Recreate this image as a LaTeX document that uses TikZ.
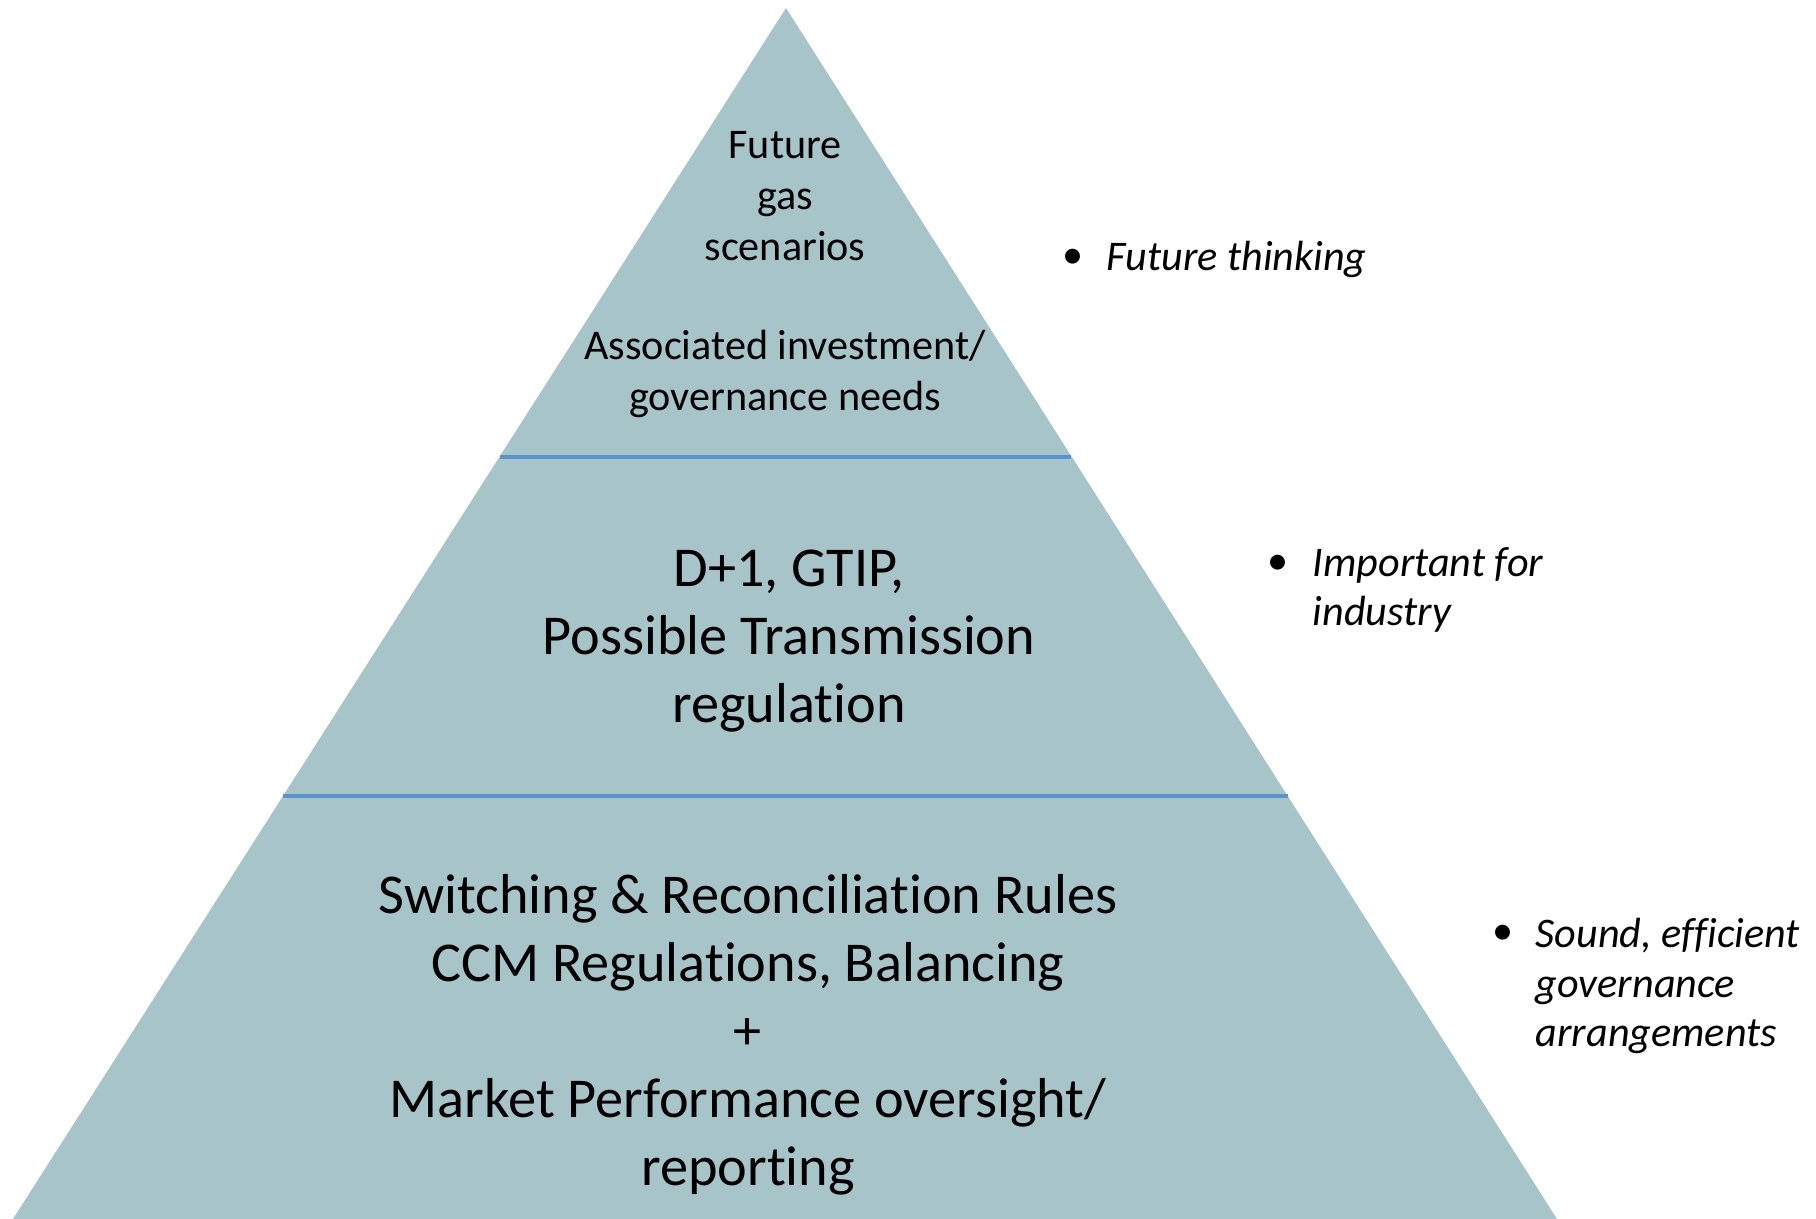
\documentclass[tikz,border=0pt]{standalone}
\usepackage{fontspec}
\setmainfont{Carlito}[Ligatures=NoCommon]
\definecolor{pyrfill}{RGB}{167,196,201}
\definecolor{tierline}{RGB}{88,146,207}
\begin{document}
\begin{tikzpicture}[x=0.01cm,y=-0.01cm]
\tikzset{
  toptext/.style={align=center,inner sep=0pt,font=\fontsize{12}{14.5}\selectfont},
  tiertext/.style={align=center,inner sep=0pt,font=\fontsize{16}{19.3}\selectfont},
  sidetext/.style={align=left,inner sep=0pt,font=\fontsize{12}{14.1}\selectfont\itshape},
  dot/.style={inner sep=0pt,font=\fontsize{12}{14.1}\selectfont}
}
\useasboundingbox (0,0) rectangle (1816,1219);

% the pyramid and its tiers
\coordinate (apex) at (786,8);
\coordinate (bl) at (13,1219);
\coordinate (br) at (1557,1219);
\fill[pyrfill] (apex)--(br)--(bl)--cycle;

\coordinate (t1l) at (500,457);
\coordinate (t1r) at (1071,457);
\coordinate (t2l) at (283,796);
\coordinate (t2r) at (1288,796);
\draw[tierline,line width=0.9pt] (t1l)--(t1r);
\draw[tierline,line width=0.9pt] (t2l)--(t2r);

% text inside the tiers
\node[toptext] (scen) at (785,196) {Future\\gas\\scenarios};
\node[toptext] (needs) at (785,374) {Associated investment/\\governance needs};
\node[tiertext] (mid) at (789,641) {D+1, GTIP,\\Possible Transmission\\regulation};
\node[tiertext] (base) at (748,1035)
  {Switching \& Reconciliation Rules\\CCM Regulations, Balancing\\+\\Market Performance oversight/\\reporting};

% notes on the right
\node[dot] (b1) at (1073,259) {\textbullet};
\node[sidetext,anchor=west] (n1) at (1106,259) {Future thinking};
\node[dot] (b2) at (1278,565) {\textbullet};
\node[sidetext,anchor=west] (n2) at (1312,590) {Important for\\industry};
\node[dot] (b3) at (1503,935) {\textbullet};
\node[sidetext,anchor=west] (n3) at (1535,986) {Sound, efficient\\governance\\arrangements};
\end{tikzpicture}
\end{document}
